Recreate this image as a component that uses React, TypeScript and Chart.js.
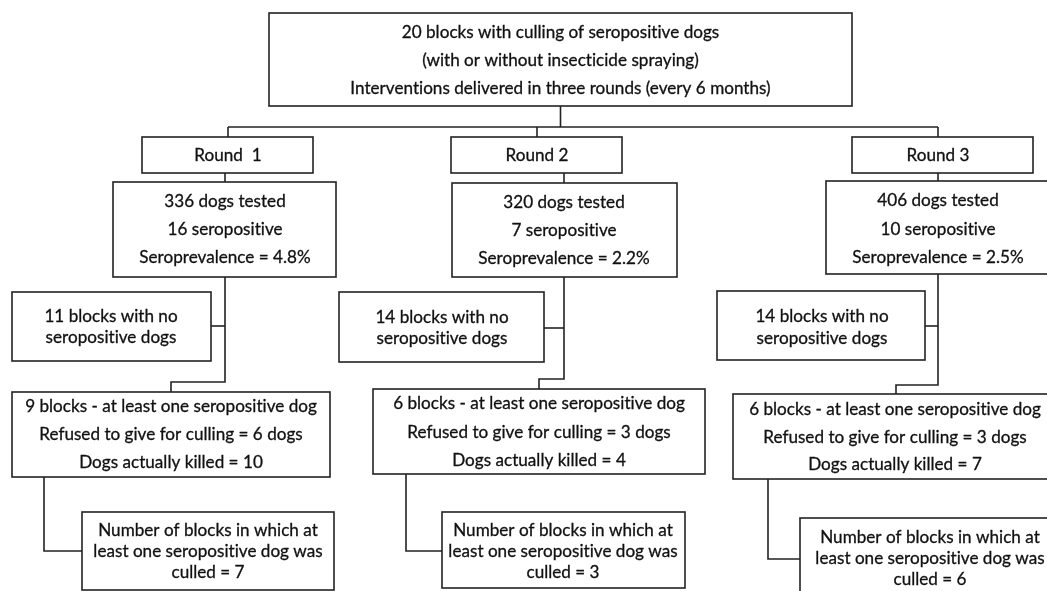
import { useEffect, useRef } from "react";
import { Chart, registerables } from "chart.js";

Chart.register(...registerables);

// ---------- data ----------
const headerLines = [
  "20 blocks with culling of seropositive dogs",
  "(with or without insecticide spraying)",
  "Interventions delivered in three rounds (every 6 months)",
];
const roundLabels = ["Round  1", "Round 2", "Round 3"];
const dogsTested = [336, 320, 406];
const seropositive = [16, 7, 10];
const seroprevalence = [4.8, 2.2, 2.5];
const blocksNone = [11, 14, 14];
const blocksAtLeastOne = [9, 6, 6];
const refusedCulling = [6, 3, 3];
const dogsKilled = [10, 4, 7];
const blocksCulled = [7, 3, 6];

// ---------- layout (diagram coordinates, 1047 x 591, y downwards) ----------
type Box = { l: number; r: number; t: number; b: number; cx: number; ys: number[] };
const headerBox: Box = { l: 269, r: 852, t: 13, b: 106, cx: 560.5, ys: [32, 60, 88] };
const busY = 127;
const roundGeo = [
  {
    round: { l: 142, r: 313, t: 137, b: 173, cx: 228, ys: [155] },
    drop: 228,
    spine: 225,
    tested: { l: 113, r: 336, t: 182, b: 277, cx: 225, ys: [201, 229, 257] },
    none: { l: 12, r: 211, t: 292, b: 361, cx: 111, ys: [316, 337] },
    noneY: 326,
    elbowY: 382,
    elbowX: 171,
    atLeast: { l: 12, r: 330, t: 392, b: 477, cx: 171, ys: [406, 434, 462] },
    legX: 44,
    legY: 551,
    culled: { l: 82, r: 334, t: 512, b: 590, cx: 208, ys: [530, 551, 572] },
  },
  {
    round: { l: 451, r: 622, t: 137, b: 173, cx: 537, ys: [155] },
    drop: 537,
    spine: 564,
    tested: { l: 452, r: 677, t: 183, b: 277, cx: 564, ys: [202, 230, 258] },
    none: { l: 339, r: 544, t: 292, b: 362, cx: 442, ys: [317, 338] },
    noneY: 328,
    elbowY: 379,
    elbowX: 539,
    atLeast: { l: 373, r: 705, t: 389, b: 474, cx: 539, ys: [403, 432, 460] },
    legX: 406,
    legY: 551,
    culled: { l: 442, r: 685, t: 512, b: 588, cx: 563, ys: [530, 551, 572] },
  },
  {
    round: { l: 852, r: 1033, t: 137, b: 173, cx: 938, ys: [155] },
    drop: 938,
    spine: 938,
    tested: { l: 826, r: 1052, t: 181, b: 274, cx: 938, ys: [200, 229, 257] },
    none: { l: 717, r: 925, t: 291, b: 360, cx: 822, ys: [316, 338] },
    noneY: 326,
    elbowY: 385,
    elbowX: 896,
    atLeast: { l: 733, r: 1057, t: 394, b: 479, cx: 895, ys: [409, 437, 464] },
    legX: 768,
    legY: 559,
    culled: { l: 800, r: 1060, t: 518, b: 610, cx: 930, ys: [537, 558, 579] },
  },
];

const FONT_FAMILY = "Lato, 'Open Sans', 'Noto Sans', sans-serif";
const REF_TEXT = "9 blocks - at least one seropositive dog";
const REF_WIDTH = 292;
const LINE_COLOR = "#222222";
const TEXT_COLOR = "#111111";

const flowPlugin = {
  id: "flowDiagram",
  afterDraw(chart: any) {
    const { ctx } = chart;
    const xs = chart.scales.x;
    const ys = chart.scales.y;
    const px = (v: number) => xs.getPixelForValue(v);
    const py = (v: number) => ys.getPixelForValue(v);

    ctx.save();
    try {
      (ctx as any).letterSpacing = "0.01px";
    } catch (e) {}
    ctx.font = `20px ${FONT_FAMILY}`;
    const fontSize = (20 * REF_WIDTH) / ctx.measureText(REF_TEXT).width;
    ctx.font = `${fontSize.toFixed(2)}px ${FONT_FAMILY}`;

    ctx.strokeStyle = LINE_COLOR;
    ctx.lineWidth = 1.6;
    const poly = (pts: number[][]) => {
      ctx.beginPath();
      pts.forEach(([x, y], i) => (i ? ctx.lineTo(px(x), py(y)) : ctx.moveTo(px(x), py(y))));
      ctx.stroke();
    };
    const box = (b: Box, lines: string[]) => {
      ctx.fillStyle = "#ffffff";
      ctx.strokeStyle = LINE_COLOR;
      ctx.lineWidth = 1.6;
      ctx.fillRect(px(b.l), py(b.t), px(b.r) - px(b.l), py(b.b) - py(b.t));
      ctx.strokeRect(px(b.l), py(b.t), px(b.r) - px(b.l), py(b.b) - py(b.t));
      ctx.fillStyle = TEXT_COLOR;
      ctx.strokeStyle = TEXT_COLOR;
      ctx.lineWidth = 0.3;
      ctx.textAlign = "center";
      ctx.textBaseline = "middle";
      lines.forEach((s, i) => {
        ctx.fillText(s, px(b.cx), py(b.ys[i]));
        ctx.strokeText(s, px(b.cx), py(b.ys[i]));
      });
    };

    // connectors
    poly([[headerBox.cx, headerBox.b], [headerBox.cx, busY]]);
    poly([[roundGeo[0].drop, busY], [roundGeo[2].drop, busY]]);
    roundGeo.forEach((g) => {
      poly([[g.drop, busY], [g.drop, g.round.t]]);
      poly([[g.spine, g.round.b], [g.spine, g.tested.t]]);
      poly([[g.spine, g.tested.b], [g.spine, g.elbowY], [g.elbowX, g.elbowY], [g.elbowX, g.atLeast.t]]);
      poly([[g.none.r, g.noneY], [g.spine, g.noneY]]);
      poly([[g.legX, g.atLeast.b], [g.legX, g.legY], [g.culled.l, g.legY]]);
    });

    // boxes
    box(headerBox, headerLines);
    roundGeo.forEach((g, i) => {
      box(g.round, [roundLabels[i]]);
      box(g.tested, [
        `${dogsTested[i]} dogs tested`,
        `${seropositive[i]} seropositive`,
        `Seroprevalence = ${seroprevalence[i].toFixed(1)}%`,
      ]);
      box(g.none, [`${blocksNone[i]} blocks with no`, "seropositive dogs"]);
      box(g.atLeast, [
        `${blocksAtLeastOne[i]} blocks - at least one seropositive dog`,
        `Refused to give for culling = ${refusedCulling[i]} dogs`,
        `Dogs actually killed = ${dogsKilled[i]}`,
      ]);
      box(g.culled, [
        "Number of blocks in which at",
        "least one seropositive dog was",
        `culled = ${blocksCulled[i]}`,
      ]);
    });
    ctx.restore();
  },
};

export default function App() {
  const canvasRef = useRef<HTMLCanvasElement | null>(null);

  useEffect(() => {
    if (!canvasRef.current) return;
    const chart = new Chart(canvasRef.current, {
      type: "scatter",
      data: { datasets: [{ data: [], pointRadius: 0 }] },
      options: {
        responsive: false,
        animation: false,
        layout: { padding: 0 },
        plugins: { legend: { display: false }, tooltip: { enabled: false } },
        scales: {
          x: { type: "linear", min: 0, max: 1047, display: false },
          y: { type: "linear", min: 0, max: 591, reverse: true, display: false },
        },
      },
      plugins: [flowPlugin],
    });
    return () => chart.destroy();
  }, []);

  return (
    <div style={{ position: "absolute", left: 0, top: 0, width: 1047, height: 591, background: "#ffffff" }}>
      <canvas ref={canvasRef} width={1047} height={591} style={{ display: "block" }} />
    </div>
  );
}
